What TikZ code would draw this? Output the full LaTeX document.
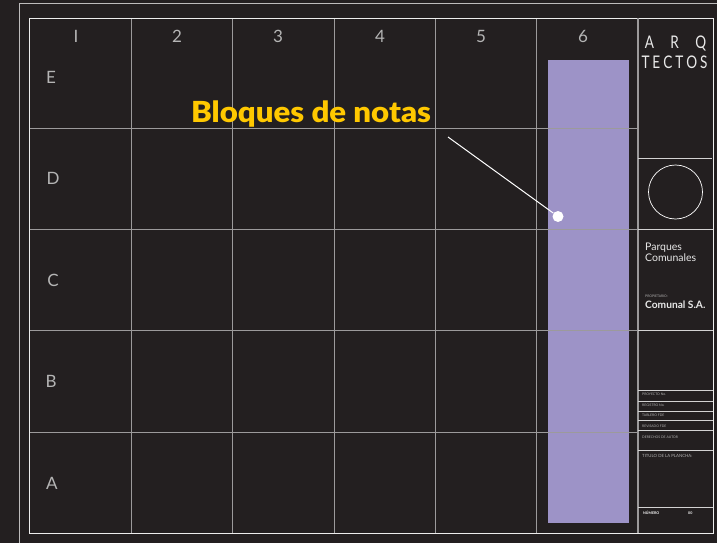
\documentclass[tikz,border=0pt]{standalone}
\usepackage{fontspec}
\setmainfont{Lato}
\newfontfamily\calloutfont{Lato}[BoldFont={* Black}]
\definecolor{bgc}{HTML}{231F20}
\definecolor{purp}{HTML}{9D93C7}
\definecolor{gold}{HTML}{FFC800}
\definecolor{lbl}{HTML}{B5B5B5}
\tikzset{
  gridline/.style={draw=white!55!bgc,line width=0.8pt},
  frameline/.style={draw=white!92!bgc,line width=1pt},
  paneline/.style={draw=white!80!bgc,line width=0.9pt},
  head/.style={text=lbl,font=\fontsize{17}{17}\selectfont,anchor=center,inner sep=0pt},
  tiny/.style={text=white!65!bgc,font=\fontsize{3.4}{4}\selectfont,anchor=west,inner sep=0pt},
  paneltext/.style={text=white!90!bgc,anchor=west,inner sep=0pt,align=left},
  brand/.style={text=white!90!bgc,font=\fontsize{17.4}{17}\selectfont,inner sep=0pt,anchor=center,xscale=0.78},
}
\begin{document}
\begin{tikzpicture}[x=1pt,y=-1pt]
\useasboundingbox (0,0) rectangle (717,543);
\fill[bgc] (0,0) rectangle (717,543);
% outer frame
\draw[draw=white!70!bgc,line width=1pt] (717,4) -- (19.5,4) -- (19.5,543);
% purple block
\fill[purp] (548,60) rectangle (629,523);
% grid
\foreach \x in {131,232,334,435,536} \draw[gridline] (\x,18) -- (\x,533);
\foreach \y in {128,229,330,432} \draw[gridline] (29,\y) -- (638,\y);
% inner frame
\draw[frameline] (29.5,18.5) rectangle (713,533);
\draw[gridline,line width=1.4pt] (638,18) -- (638,533);
% column headers
\node[head] (c1) at (76,36) {I};
\node[head] (c2) at (177,36) {2};
\node[head] (c3) at (278,36) {3};
\node[head] (c4) at (380,36) {4};
\node[head] (c5) at (481,36) {5};
\node[head] (c6) at (583,36) {6};
% row headers
\node[head] (rE) at (51,77) {E};
\node[head] (rD) at (53,178) {D};
\node[head] (rC) at (53,280) {C};
\node[head] (rB) at (51,381) {B};
\node[head] (rA) at (52,483) {A};
% callout
\node[text=gold,font=\calloutfont\bfseries\fontsize{29}{29}\selectfont,inner sep=0pt,anchor=base,xscale=1.075] (callout) at (311,122.5) {Bloques de notas};
\coordinate (calloutend) at (448,137);
\node[circle,fill=white,inner sep=0pt,minimum size=11pt] (dot) at (558,216.5) {};
\draw[white,line width=1pt] (calloutend) -- (dot);
% title panel
\node[brand] (arq) at (675.5,43) {A\hspace{21pt}R\hspace{21pt}Q};
\node[brand] (tec) at (674.5,62) {T\hspace{3.8pt}E\hspace{3.8pt}C\hspace{3.8pt}T\hspace{3.8pt}O\hspace{3.8pt}S};
\draw[paneline] (638,158) -- (712,158);
\node[circle,draw=white,line width=0.7pt,minimum size=54pt,inner sep=0pt] (logo) at (675.5,192) {};
\draw[paneline] (638,229) -- (713,229);
\node[paneltext,font=\fontsize{10.5}{11.5}\selectfont] (parq) at (645,252.5) {Parques\\Comunales};
\node[tiny] (prop) at (645,296) {PROPIETARIO:};
\node[paneltext,font=\bfseries\fontsize{10.2}{10}\selectfont] (comu) at (645,304.5) {Comunal S.A.};
\draw[paneline] (638,330) -- (713,330);
\draw[paneline] (638,390) -- (713,390);
\draw[paneline] (638,401.5) -- (713,401.5);
\draw[paneline] (638,411) -- (713,411);
\draw[paneline] (638,420.5) -- (713,420.5);
\draw[paneline] (638,430) -- (713,430);
\draw[paneline] (638,450) -- (713,450);
\draw[paneline] (638,507.5) -- (713,507.5);
\node[tiny] (t1) at (642,394) {PROYECTO No.};
\node[tiny] (t2) at (642,405) {REGISTRO No.};
\node[tiny] (t3) at (642,415) {TABLERO FDE};
\node[tiny] (t4) at (642,426) {REVISADO FDE};
\node[tiny] (t5) at (642,437) {DERECHOS DE AUTOR};
\node[tiny,font=\fontsize{4.3}{5}\selectfont] (t6) at (642,455.5) {TITULO DE LA PLANCHA:};
\node[tiny,text=white,font=\bfseries\fontsize{3.6}{4}\selectfont] (t7) at (643,513) {NÚMERO};
\node[tiny,text=white,font=\bfseries\fontsize{3.6}{4}\selectfont] (t8) at (688,513) {00};
\end{tikzpicture}
\end{document}
